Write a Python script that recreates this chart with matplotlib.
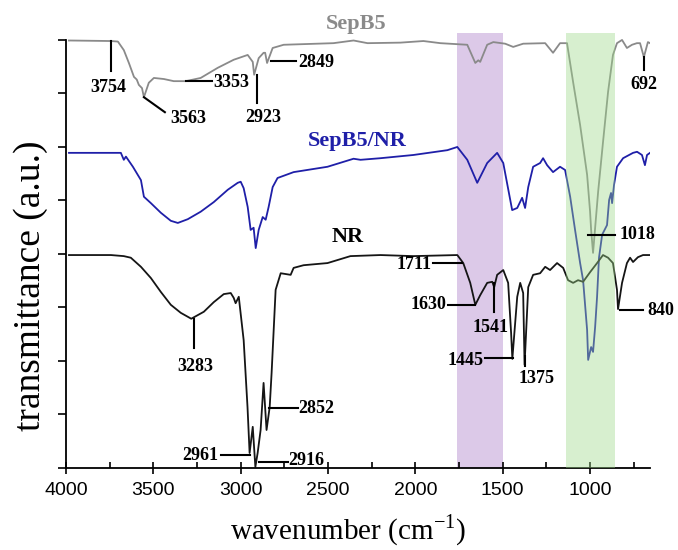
import numpy as np
import matplotlib
matplotlib.use("Agg")
import matplotlib.pyplot as plt

# --- spectra (wavenumber cm-1, offset transmittance) ---
sep_w = [3983, 3743, 3703, 3669, 3640, 3611, 3595, 3583, 3565, 3554, 3526, 3497, 3440,
         3383, 3314, 3229, 3131, 3040, 2960, 2931, 2923, 2897, 2869, 2860, 2849, 2817,
         2754, 2469, 2354, 2274, 2086, 1954, 1857, 1703, 1657, 1640, 1629, 1589, 1554,
         1486, 1440, 1383, 1257, 1212, 1172, 1132, 1097, 1057, 1017, 1000, 994, 983,
         954, 926, 897, 869, 846, 817, 789, 760, 732, 714, 692, 669, 657]
sep_t = [7.99, 7.98, 7.97, 7.81, 7.57, 7.31, 7.26, 7.16, 7.10, 6.93, 7.20, 7.29, 7.27,
         7.23, 7.23, 7.29, 7.48, 7.63, 7.72, 7.59, 7.35, 7.66, 7.76, 7.76, 7.57, 7.85,
         7.91, 7.94, 7.99, 7.94, 7.95, 7.98, 7.94, 7.91, 7.57, 7.62, 7.59, 7.91, 7.96,
         7.93, 7.87, 7.93, 7.94, 7.76, 7.94, 7.94, 7.21, 6.41, 5.48, 4.79, 4.45, 4.02,
         5.16, 6.09, 7.03, 7.72, 7.94, 8.00, 7.85, 7.91, 7.94, 7.94, 7.68, 7.96, 7.94]

snr_w = [3983, 3686, 3669, 3657, 3617, 3571, 3554, 3514, 3457, 3400, 3360, 3303, 3229,
         3154, 3074, 3017, 3000, 2983, 2960, 2943, 2926, 2914, 2897, 2874, 2857, 2840,
         2817, 2789, 2697, 2503, 2354, 2314, 2200, 2012, 1817, 1760, 1703, 1646, 1589,
         1532, 1497, 1446, 1417, 1389, 1372, 1354, 1326, 1286, 1269, 1246, 1212, 1172,
         1143, 1114, 1086, 1057, 1040, 1017, 1011, 994, 983, 971, 960, 949, 931, 903,
         891, 880, 874, 863, 846, 811, 754, 731, 703, 686, 674, 657]
snr_t = [5.89, 5.89, 5.76, 5.82, 5.63, 5.38, 5.07, 4.95, 4.77, 4.62, 4.58, 4.65, 4.79,
         4.97, 5.20, 5.33, 5.35, 5.23, 4.88, 4.45, 4.49, 4.11, 4.45, 4.69, 4.64, 4.88,
         5.25, 5.42, 5.53, 5.63, 5.78, 5.76, 5.79, 5.85, 5.94, 6.00, 5.76, 5.33, 5.70,
         5.89, 5.70, 4.82, 4.86, 5.05, 4.86, 5.25, 5.63, 5.70, 5.79, 5.66, 5.53, 5.63,
         5.57, 5.07, 4.45, 3.83, 3.51, 2.58, 2.02, 2.26, 2.17, 2.64, 3.20, 3.93, 4.36, 4.54,
         5.01, 5.14, 4.95, 5.29, 5.63, 5.79, 5.89, 5.91, 5.85, 5.66, 5.85, 5.89]

nr_w = [3983, 3743, 3669, 3629, 3571, 3514, 3457, 3400, 3343, 3283, 3211, 3154, 3097,
        3057, 3040, 3029, 3011, 2983, 2961, 2949, 2931, 2916, 2903, 2886, 2869, 2852,
        2834, 2823, 2800, 2771, 2714, 2697, 2640, 2503, 2372, 2200, 2012, 1760, 1726,
        1686, 1657, 1629, 1589, 1560, 1549, 1532, 1497, 1469, 1452, 1445, 1417, 1400,
        1383, 1375, 1354, 1326, 1286, 1257, 1229, 1189, 1154, 1126, 1097, 1069, 1040,
        1000, 960, 926, 897, 869, 846, 840, 817, 789, 771, 754, 726, 697, 657]
nr_t = [3.98, 3.98, 3.96, 3.93, 3.76, 3.55, 3.29, 3.05, 2.90, 2.79, 2.92, 3.10, 3.25,
        3.27, 3.18, 3.08, 3.20, 2.39, 1.14, 0.28, 0.77, 0.02, 0.28, 0.71, 1.59, 0.71,
        1.14, 1.78, 3.33, 3.64, 3.61, 3.74, 3.79, 3.83, 3.96, 3.98, 3.96, 3.98, 3.83,
        3.46, 3.05, 3.23, 3.46, 3.48, 3.38, 3.61, 3.70, 3.46, 2.52, 2.04, 3.20, 3.46,
        3.27, 1.93, 3.38, 3.61, 3.64, 3.76, 3.70, 3.83, 3.74, 3.51, 3.46, 3.51, 3.48,
        3.66, 3.83, 3.98, 3.93, 3.83, 3.33, 2.97, 3.46, 3.83, 3.93, 3.85, 3.94, 3.98, 3.98]

# peak labels: text, leader line (w0, t0, w1, t1), text anchor (w, t), alignment
peak_labels = [
    ("3754", (3743, 7.98, 3743, 7.42), (3760, 7.12), "center"),
    ("3563", (3554, 6.93, 3434, 6.65), (3297, 6.54), "center"),
    ("3353", (3314, 7.23, 3166, 7.23), (3154, 7.20), "left"),
    ("2923", (2909, 7.35, 2909, 6.82), (2869, 6.56), "center"),
    ("2849", (2829, 7.61, 2686, 7.61), (2669, 7.57), "left"),
    ("692", (692, 7.68, 692, 7.44), (692, 7.16), "center"),
    ("1018", (1012, 4.36, 857, 4.36), (829, 4.36), "left"),
    ("1711", (1731, 3.83, 1897, 3.83), (1907, 3.81), "right"),
    ("1630", (1657, 3.05, 1811, 3.05), (1823, 3.05), "right"),
    ("1541", (1549, 3.46, 1549, 2.92), (1571, 2.62), "center"),
    ("1445", (1440, 2.06, 1600, 2.06), (1612, 2.00), "right"),
    ("1375", (1375, 2.10, 1375, 1.90), (1309, 1.68), "center"),
    ("840", (829, 2.95, 697, 2.95), (674, 2.95), "left"),
    ("3283", (3269, 2.79, 3269, 2.24), (3257, 1.89), "center"),
    ("2852", (2840, 1.12, 2674, 1.12), (2669, 1.12), "left"),
    ("2961", (2949, 0.24, 3114, 0.24), (3126, 0.24), "right"),
    ("2916", (2897, 0.11, 2731, 0.11), (2726, 0.14), "left"),
]

serif = "Liberation Serif"

fig = plt.figure(figsize=(6.78, 5.5), dpi=100)
ax = fig.add_axes([66/678, 82/550, 584/678, 435/550])

ax.axvspan(1760, 1500, color="#dcc9e8", lw=0, zorder=0)
ax.axvspan(1135, 855, color="#9dd989", alpha=0.4, lw=0, zorder=5)

ax.plot(sep_w, sep_t, color="#8a8a8a", lw=1.3, zorder=2)
ax.plot(snr_w, snr_t, color="#1f1fa8", lw=1.3, zorder=2)
ax.plot(nr_w, nr_t, color="#151515", lw=1.3, zorder=2)

for txt, (w0, t0, w1, t1), (tw, tt), ha in peak_labels:
    ax.plot([w0, w1], [t0, t1], color="black", lw=1.5, zorder=6)
    ax.text(tw, tt, txt, ha=ha, va="center", fontsize=13, fontweight="bold",
            family=serif, zorder=6)

ax.text(2337, 8.30, "SepB5", color="#8a8a8a", fontsize=16, fontweight="bold",
        family=serif, ha="center", va="center", clip_on=False)
ax.text(2331, 6.11, "SepB5/NR", color="#1f1fa8", fontsize=16, fontweight="bold",
        family=serif, ha="center", va="center")
ax.text(2389, 4.32, "NR", color="black", fontsize=16, fontweight="bold",
        family=serif, ha="center", va="center")

ax.set_xlim(4000, 657)
ax.set_ylim(0, 8.13)
ax.spines["top"].set_visible(False)
ax.spines["right"].set_visible(False)
ax.spines["left"].set_bounds(0, 8)
ax.set_xticks(np.arange(4000, 999, -500))
ax.set_xticks(np.arange(3750, 700, -500), minor=True)
ax.set_yticks(np.arange(0, 9))
ax.set_yticklabels([])
ax.tick_params(axis="x", which="major", direction="inout", length=8, width=1.2,
               pad=6, labelsize=14)
ax.tick_params(axis="x", which="minor", direction="in", length=4, width=1.2)
ax.tick_params(axis="y", direction="out", length=6, width=1.2)
for lab in ax.get_xticklabels():
    lab.set_family("Liberation Sans")
for s in ax.spines.values():
    s.set_linewidth(1.3)

fig.text(348/678, 1 - 530/550, "wavenumber (cm$^{\\mathregular{-1}}$)", family=serif,
         fontsize=21, ha="center", va="center")
fig.text(31/678, 1 - 286/550, "transmittance (a.u.)", family=serif, fontsize=27,
         rotation=90, ha="center", va="center")

fig.savefig("out.png", dpi=100)
